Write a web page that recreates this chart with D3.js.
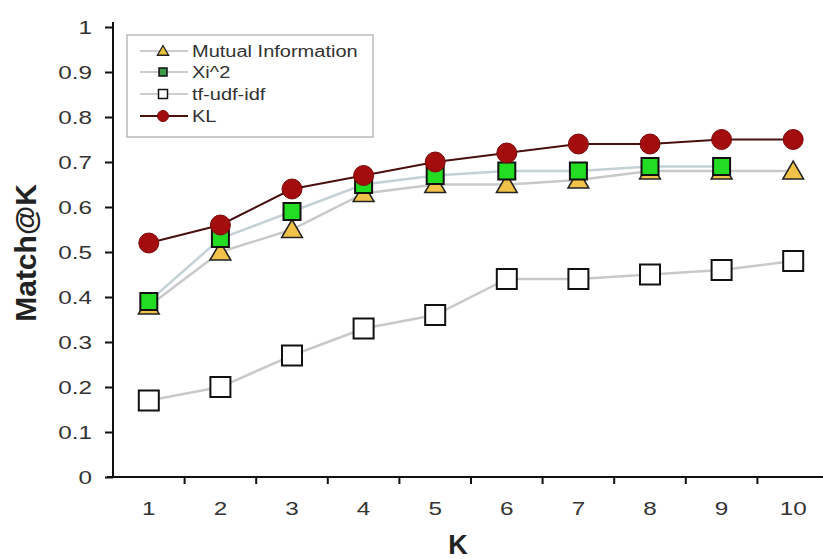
<!DOCTYPE html>
<html><head><meta charset="utf-8">
<script src="https://cdn.jsdelivr.net/npm/d3@7"></script>
<style>body{margin:0;background:#fff}svg{display:block}</style>
</head><body>
<svg id="c" width="823" height="559"></svg>
<script>
const ks = [1,2,3,4,5,6,7,8,9,10];
const mutualInfo = [0.38,0.50,0.55,0.63,0.65,0.65,0.66,0.68,0.68,0.68];
const xi2 = [0.39,0.53,0.59,0.65,0.67,0.68,0.68,0.69,0.69];
const tfUdfIdf = [0.17,0.20,0.27,0.33,0.36,0.44,0.44,0.45,0.46,0.48];
const kl = [0.52,0.56,0.64,0.67,0.70,0.72,0.74,0.74,0.75,0.75];
const yTicks = [0,0.1,0.2,0.3,0.4,0.5,0.6,0.7,0.8,0.9,1];
const yTickLabels = ["0","0.1","0.2","0.3","0.4","0.5","0.6","0.7","0.8","0.9","1"];
const seriesNames = ["Mutual Information","Xi^2","tf-udf-idf","KL"];

const FONT = "Arial, 'Liberation Sans', sans-serif";
const SX = 1.35; // horizontal stretch of the source image text
const svg = d3.select("#c");
const x0 = 113, yBottom = 477, yTop = 27;
const x = d3.scaleBand().domain(ks).range([x0, x0 + 10*71.6]).padding(0);
const y = d3.scaleLinear().domain([0,1]).range([yBottom, yTop]);
const cx = k => x(k) + x.bandwidth()/2;

// y axis
const yAxis = d3.axisLeft(y).tickValues(yTicks).tickFormat((d,i)=>yTickLabels[i]).tickSize(8).tickPadding(4);
const gy = svg.append("g").attr("transform",`translate(${x0},0)`).call(yAxis);
gy.select(".domain").attr("d",`M0,${yTop-5}V${yBottom}`).attr("stroke","#111").attr("stroke-width",2);
gy.selectAll(".tick line").attr("stroke","#111").attr("stroke-width",2);
gy.selectAll(".tick text").attr("font-family",FONT).attr("font-size",18).attr("fill","#333")
  .attr("x",-21/SX).attr("dy","0.35em").attr("transform",`scale(${SX},1)`);

// x axis
const boundaries = ks.map(k => x(k)).slice(1).concat([x(10)+x.bandwidth()]);
const gx = svg.append("g").attr("transform",`translate(0,${yBottom})`);
gx.append("line").attr("x1",x0-6).attr("x2",823).attr("stroke","#111").attr("stroke-width",2);
gx.selectAll("line.t").data(boundaries).enter().append("line").attr("class","t")
  .attr("x1",d=>d).attr("x2",d=>d).attr("y1",0).attr("y2",7).attr("stroke","#111").attr("stroke-width",2);
gx.selectAll("text").data(ks).enter().append("text")
  .attr("transform",d=>`translate(${cx(d)},38) scale(${SX},1)`).attr("text-anchor","middle")
  .attr("font-family",FONT).attr("font-size",18).attr("fill","#333").text(d=>d);

svg.append("text").attr("x",458).attr("y",554).attr("text-anchor","middle")
  .attr("font-family",FONT).attr("font-weight","bold").attr("font-size",27).attr("fill","#222").text("K");
svg.append("text").attr("transform","translate(36,253) rotate(-90)").attr("text-anchor","middle")
  .attr("font-family",FONT).attr("font-weight","bold").attr("font-size",30).attr("fill","#222").text("Match@K");

// lines
const line = d3.line().x((d,i)=>cx(ks[i])).y(d=>y(d));
const gray = "#c9c9c9";
svg.append("path").attr("d",line(tfUdfIdf)).attr("fill","none").attr("stroke",gray).attr("stroke-width",2.5);
svg.append("path").attr("d",line(mutualInfo)).attr("fill","none").attr("stroke",gray).attr("stroke-width",2.5);
svg.append("path").attr("d",line(xi2)).attr("fill","none").attr("stroke","#c4d2d6").attr("stroke-width",2.5);
svg.append("path").attr("d",line(kl)).attr("fill","none").attr("stroke","#4a1010").attr("stroke-width",2);

const tri = d3.symbol().type(d3.symbolTriangle);
function drawTri(g, px, py, s){ g.append("path").attr("d",tri.size(s)()).attr("transform",`translate(${px},${py+2})`).attr("fill","#f0c24a").attr("stroke","#222").attr("stroke-width",1.6); }
function drawSq(g, px, py, s, fill, sw){ g.append("rect").attr("x",px-s/2).attr("y",py-s/2).attr("width",s).attr("height",s).attr("fill",fill).attr("stroke","#111").attr("stroke-width",sw||2); }
function drawCirc(g, px, py, r){ g.append("circle").attr("cx",px).attr("cy",py).attr("r",r).attr("fill","#a30d0d").attr("stroke","#7a0a0a").attr("stroke-width",1); }

const gm = svg.append("g");
tfUdfIdf.forEach((v,i)=>drawSq(gm, cx(ks[i]), y(v), 20, "#fff"));
mutualInfo.forEach((v,i)=>drawTri(gm, cx(ks[i]), y(v), 185));
xi2.forEach((v,i)=>drawSq(gm, cx(ks[i]), y(v), 17, "#22dd22"));
kl.forEach((v,i)=>drawCirc(gm, cx(ks[i]), y(v), 10));

// legend
const lg = svg.append("g");
lg.append("rect").attr("x",127).attr("y",35).attr("width",246).attr("height",102).attr("fill","#fff").attr("stroke","#aaa").attr("stroke-width",1.2);
const rows = [51,72,94,116];
const lx1 = 140, lx2 = 188, lm = 163;
seriesNames.forEach((n,i)=>{
  const ry = rows[i];
  lg.append("line").attr("x1",lx1).attr("x2",lx2).attr("y1",ry).attr("y2",ry)
    .attr("stroke", i===3 ? "#4a1010" : "#bdbdbd").attr("stroke-width", i===3?2:1.5);
  if(i===0) lg.append("path").attr("d",d3.symbol().type(d3.symbolTriangle).size(55)()).attr("transform",`translate(${lm},${ry+1})`).attr("fill","#e8c040").attr("stroke","#222").attr("stroke-width",1.3);
  if(i===1) drawSq(lg, lm, ry, 8, "#3a9a4a", 1.5);
  if(i===2) drawSq(lg, lm, ry, 9, "#fff", 1.5);
  if(i===3) drawCirc(lg, lm, ry, 5.5);
  lg.append("text").attr("transform",`translate(192,${ry+6}) scale(1.25,1)`).attr("font-family",FONT).attr("font-size",16).attr("fill","#333").text(n);
});
</script>
</body></html>
